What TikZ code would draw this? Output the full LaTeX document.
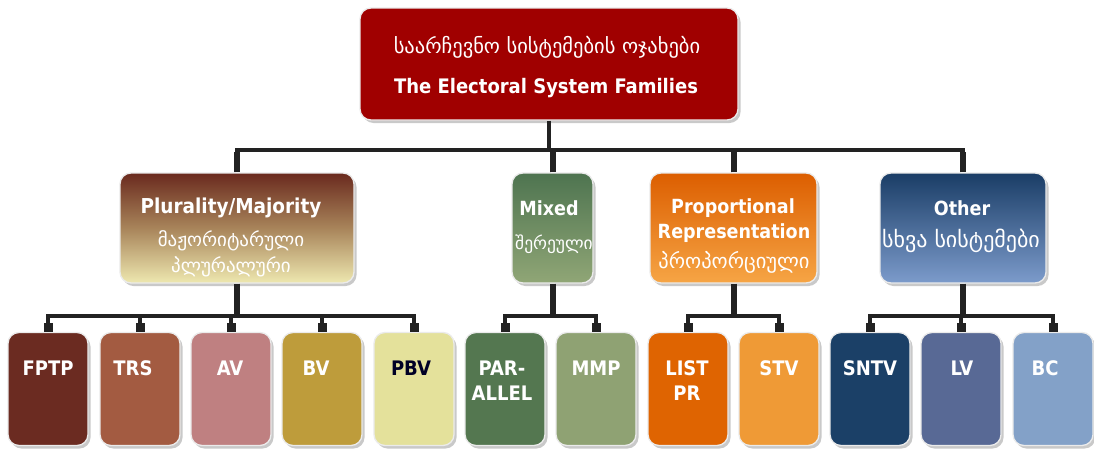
\documentclass[tikz,border=0pt]{standalone}
\usepackage{fontspec}
\setmainfont{DejaVu Sans Condensed}
\newfontfamily\geo[Script=Georgian]{DejaVu Sans}
\usetikzlibrary{shadows}
\definecolor{topred}{HTML}{A00000}
\definecolor{pmtop}{HTML}{6A2A1E}
\definecolor{pmmid}{HTML}{A8845A}
\definecolor{pmbot}{HTML}{EEE8B0}
\definecolor{mxtop}{HTML}{4E7450}
\definecolor{mxbot}{HTML}{90A676}
\definecolor{prtop}{HTML}{DC5E00}
\definecolor{prbot}{HTML}{F6A545}
\definecolor{ottop}{HTML}{1A3D66}
\definecolor{otbot}{HTML}{7C9BCB}
\definecolor{cFPTP}{HTML}{6B2B21}
\definecolor{cTRS}{HTML}{A35B41}
\definecolor{cAV}{HTML}{BF8081}
\definecolor{cBV}{HTML}{BE9C3B}
\definecolor{cPBV}{HTML}{E4E19B}
\definecolor{cPAR}{HTML}{547750}
\definecolor{cMMP}{HTML}{8FA273}
\definecolor{cLIST}{HTML}{DF6401}
\definecolor{cSTV}{HTML}{EF9A36}
\definecolor{cSNTV}{HTML}{1B4067}
\definecolor{cLV}{HTML}{586995}
\definecolor{cBC}{HTML}{83A1C8}
\definecolor{linec}{HTML}{222222}
\begin{document}
\begin{tikzpicture}[x=1pt,y=-1pt,
  box/.style={draw=white!92!black, line width=1.3pt, rounded corners=11pt,
    drop shadow={shadow xshift=2.5pt,shadow yshift=-3pt,opacity=0.35,fill=black!60}},
  mid/.style={box, minimum height=110pt, inner sep=0pt},
  leaf/.style={box, minimum width=80pt, minimum height=113pt, inner sep=0pt},
  conn/.style={draw=linec, line width=4.5pt, line join=miter},
  thick drop/.style={draw=linec, line width=6pt},
  stubline/.style={draw=linec, line width=9pt},
  lbl/.style={text=white, font=\bfseries\fontsize{19.5}{22}\selectfont, align=center, inner sep=0pt},
  glbl/.style={text=white, font=\geo\fontsize{19}{22}\selectfont, align=center, inner sep=0pt},
  llbl/.style={text=white, font=\bfseries\fontsize{20}{25}\selectfont, align=center, inner sep=0pt}
]
\fill[white] (0,0) rectangle (1094,450);
\useasboundingbox (0,0) rectangle (1094,450);

% coordinates of bars
\coordinate (bar1) at (548,150);
\coordinate (bar2) at (548,316);

% top box
\node[box, fill=topred, minimum width=378pt, minimum height=112pt] (top) at (549,64) {};
\node[glbl, font=\geo\fontsize{20.5}{24}\selectfont] (t1) at (547,47) {საარჩევნო სისტემების ოჯახები};
\node[lbl, font=\bfseries\fontsize{20}{24}\selectfont] (t2) at (546,88) {The Electoral System Families};

% level 2 boxes
\node[mid, minimum width=234pt, top color=pmtop, bottom color=pmbot, middle color=pmmid] (pm) at (237,228) {};
\node[mid, minimum width=81pt, top color=mxtop, bottom color=mxbot] (mx) at (552.5,228) {};
\node[mid, minimum width=167pt, top color=prtop, bottom color=prbot] (pr) at (733.5,228) {};
\node[mid, minimum width=166pt, top color=ottop, bottom color=otbot] (ot) at (963,228) {};

\node[lbl, font=\bfseries\fontsize{20.5}{24}\selectfont] (pmA) at (231,208) {Plurality/Majority};
\node[glbl] (pmB) at (231,241) {მაჟორიტარული};
\node[glbl] (pmC) at (231,267) {პლურალური};
\node[lbl] (mxA) at (549,208) {Mixed};
\node[glbl, font=\geo\fontsize{17.5}{20}\selectfont] (mxB) at (554,244) {შერეული};
\node[lbl] (prA) at (733,208) {Proportional};
\node[lbl] (prB) at (734,233) {Representation};
\node[glbl, font=\geo\fontsize{20.5}{24}\selectfont] (prC) at (734,262) {პროპორციული};
\node[lbl] (otA) at (962,208) {Other};
\node[glbl, font=\geo\fontsize{22}{24}\selectfont] (otB) at (961,241) {სხვა სისტემები};

% level 3 boxes
\node[leaf, fill=cFPTP] (fptp) at (48,389) {};
\node[leaf, fill=cTRS] (trs) at (140,389) {};
\node[leaf, fill=cAV] (av) at (231,389) {};
\node[leaf, fill=cBV] (bv) at (322,389) {};
\node[leaf, fill=cPBV] (pbv) at (414,389) {};
\node[leaf, fill=cPAR] (par) at (505,389) {};
\node[leaf, fill=cMMP] (mmp) at (596,389) {};
\node[leaf, fill=cLIST] (list) at (688,389) {};
\node[leaf, fill=cSTV] (stv) at (779,389) {};
\node[leaf, fill=cSNTV] (sntv) at (870,389) {};
\node[leaf, fill=cLV] (lv) at (961,389) {};
\node[leaf, fill=cBC] (bc) at (1053,389) {};

\node[llbl] at (48,368) {FPTP};
\node[llbl] at (133,368) {TRS};
\node[llbl] at (230,368) {AV};
\node[llbl] at (316,368) {BV};
\node[llbl, text=black!85!blue] at (411,368) {PBV};
\node[llbl] at (502,380.5) {PAR-\\ALLEL};
\node[llbl] at (596,368) {MMP};
\node[llbl] at (687,380.5) {LIST\\PR};
\node[llbl] at (779,368) {STV};
\node[llbl] at (870,368) {SNTV};
\node[llbl] at (962,368) {LV};
\node[llbl] at (1045,368) {BC};

% top connectors
\draw[conn] (top.south) -- (top.south |- bar1);
\draw[conn] (pm.north) -- (pm.north |- bar1) -- (ot.north |- bar1) -- (ot.north);
\draw[conn] (mx.north) -- (mx.north |- bar1);
\draw[conn] (pr.north) -- (pr.north |- bar1);
\foreach \n in {pm,mx,pr,ot} {\draw[thick drop] (\n.north) -- ++(0,-20);}

% level-2 to level-3 connectors
\draw[conn] (fptp.north) -- (fptp.north |- bar2) -- (pbv.north |- bar2) -- (pbv.north);
\draw[thick drop] (pm.south) -- (pm.south |- bar2);
\foreach \n in {trs,av,bv} {\draw[conn] (\n.north) -- (\n.north |- bar2);}
\draw[conn] (par.north) -- (par.north |- bar2) -- (mmp.north |- bar2) -- (mmp.north);
\draw[thick drop] (mx.south) -- (mx.south |- bar2);
\draw[conn] (list.north) -- (list.north |- bar2) -- (stv.north |- bar2) -- (stv.north);
\draw[thick drop] (pr.south) -- (pr.south |- bar2);
\draw[conn] (sntv.north) -- (sntv.north |- bar2) -- (bc.north |- bar2) -- (bc.north);
\draw[thick drop] (ot.south) -- (ot.south |- bar2);
\draw[conn] (lv.north) -- (lv.north |- bar2);
\foreach \n in {fptp,trs,av,bv,pbv,par,mmp,list,stv,sntv,lv,bc} {\draw[stubline] (\n.north) -- ++(0,-9);}
\end{tikzpicture}
\end{document}
